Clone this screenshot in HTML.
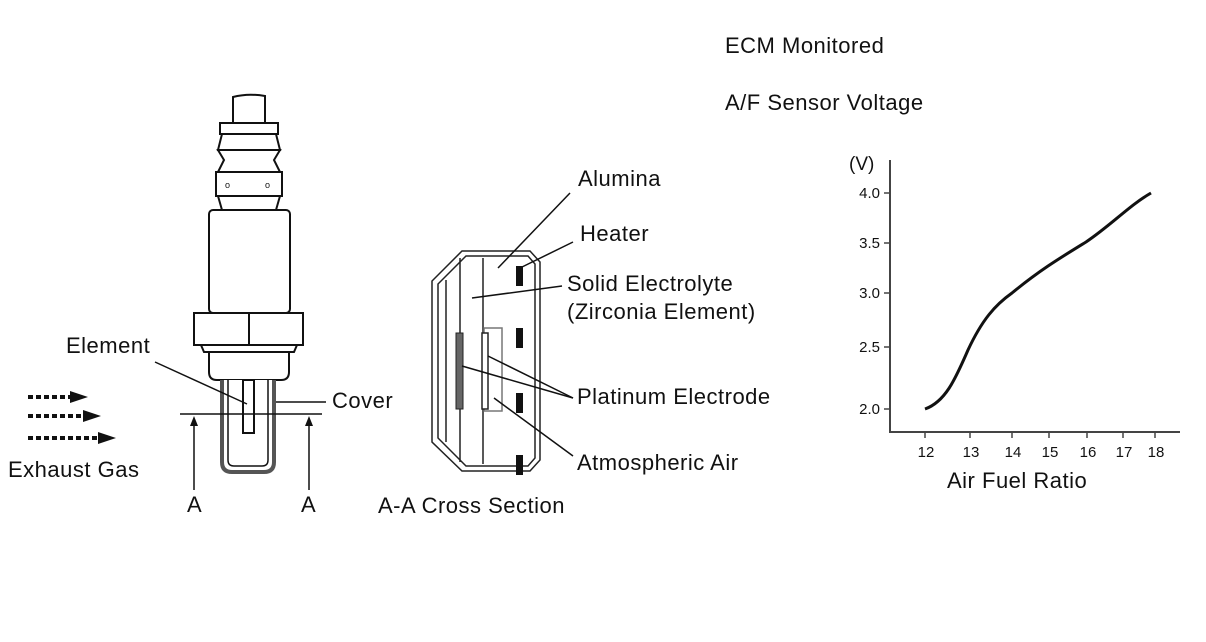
<!DOCTYPE html>
<html><head><meta charset="utf-8"><style>
html,body{margin:0;padding:0;background:#fff}
svg{display:block}
text{font-family:"Liberation Sans",sans-serif;fill:#111}
</style></head><body>
<svg width="1206" height="642" viewBox="0 0 1206 642" xmlns="http://www.w3.org/2000/svg">
<g font-size="22" letter-spacing="0.5">
<text x="725" y="53">ECM Monitored</text>
<text x="725" y="110">A/F Sensor Voltage</text>
<text x="66" y="353">Element</text>
<text x="332" y="408">Cover</text>
<text x="8" y="477">Exhaust Gas</text>
<text x="187" y="512">A</text>
<text x="301" y="512">A</text>
<text x="378" y="513">A-A Cross Section</text>
<text x="578" y="186">Alumina</text>
<text x="580" y="241">Heater</text>
<text x="567" y="291">Solid Electrolyte</text>
<text x="567" y="319">(Zirconia Element)</text>
<text x="577" y="404">Platinum Electrode</text>
<text x="577" y="470">Atmospheric Air</text>
<text x="947" y="488">Air Fuel Ratio</text>
</g>
<!-- sensor -->
<g stroke="#111" stroke-width="2" fill="#fff">
<path d="M233 123 V97 Q248 93 265 96 V123"/>
<rect x="220" y="123" width="58" height="11"/>
<path d="M222 134 H276 L280 150 H218 Z"/>
<path d="M218 150 H280 L274 160 L280 172 H218 L224 160 Z"/>
<rect x="216" y="172" width="66" height="24"/>
<path d="M218 196 H280 L276 210 H222 Z"/>
<rect x="209" y="210" width="81" height="103" rx="4"/>
<rect x="194" y="313" width="109" height="32"/>
<line x1="249" y1="313" x2="249" y2="345"/>
<path d="M201 345 H297 L294 352 H204 Z"/>
<path d="M209 352 H289 V372 Q289 380 281 380 H217 Q209 380 209 372 Z"/>
<path d="M222 380 V462 Q222 472 232 472 H264 Q274 472 274 462 V380" stroke="#555" stroke-width="4"/>
<path d="M228 380 V460 Q228 466 234 466 H262 Q268 466 268 460 V380" stroke-width="1.5"/>
<rect x="243" y="380" width="11" height="53"/>
</g>
<text x="225" y="188" font-size="9">o</text><text x="265" y="188" font-size="9">o</text>
<g stroke="#111" stroke-width="1.5" fill="none">
<line x1="155" y1="362" x2="247" y2="404"/>
<line x1="276" y1="402" x2="326" y2="402"/>
<line x1="180" y1="414" x2="322" y2="414"/>
<line x1="194" y1="422" x2="194" y2="490"/>
<line x1="309" y1="422" x2="309" y2="490"/>
</g>
<path d="M194 416 l-4 10 h8 Z M309 416 l-4 10 h8 Z" fill="#111"/>
<!-- exhaust arrows -->
<g stroke="#111" stroke-width="4" stroke-dasharray="5 3">
<line x1="28" y1="397" x2="72" y2="397"/>
<line x1="28" y1="416" x2="85" y2="416"/>
<line x1="28" y1="438" x2="100" y2="438"/>
</g>
<path d="M70 391 L88 397 L70 403Z M83 410 L101 416 L83 422Z M98 432 L116 438 L98 444Z" fill="#111"/>
<!-- cross section -->
<g fill="none" stroke="#222" stroke-width="1.5">
<path d="M462 251 H530 L540 262 V460 L530 471 H462 L432 442 V281 Z"/>
<path d="M466 256 H528 L535 264 V458 L528 466 H466 L438 438 V284 Z"/>
<line x1="446" y1="280" x2="446" y2="442"/>
<line x1="460" y1="258" x2="460" y2="462"/>
<line x1="483" y1="258" x2="483" y2="464"/>
<rect x="484" y="328" width="18" height="83" stroke="#777"/>
</g>
<rect x="456" y="333" width="7" height="76" fill="#666" stroke="#222"/>
<rect x="482" y="333" width="6" height="76" fill="#fff" stroke="#222" stroke-width="1.5"/>
<g fill="#111">
<rect x="516" y="266" width="7" height="20"/>
<rect x="516" y="328" width="7" height="20"/>
<rect x="516" y="393" width="7" height="20"/>
<rect x="516" y="455" width="7" height="20"/>
</g>
<g stroke="#111" stroke-width="1.5">
<line x1="498" y1="268" x2="570" y2="193"/>
<line x1="520" y1="268" x2="573" y2="242"/>
<line x1="472" y1="298" x2="562" y2="286"/>
<line x1="462" y1="366" x2="573" y2="398"/>
<line x1="488" y1="356" x2="573" y2="398"/>
<line x1="494" y1="398" x2="573" y2="456"/>
</g>
<!-- graph -->
<g stroke="#444" stroke-width="2" fill="none">
<line x1="890" y1="160" x2="890" y2="433"/>
<line x1="889" y1="432" x2="1180" y2="432"/>
</g>
<g stroke="#444" stroke-width="1.5">
<line x1="884" y1="193" x2="890" y2="193"/><line x1="884" y1="243" x2="890" y2="243"/>
<line x1="884" y1="293" x2="890" y2="293"/><line x1="884" y1="347" x2="890" y2="347"/>
<line x1="884" y1="409" x2="890" y2="409"/>
<line x1="925" y1="432" x2="925" y2="438"/><line x1="970" y1="432" x2="970" y2="438"/>
<line x1="1012" y1="432" x2="1012" y2="438"/><line x1="1049" y1="432" x2="1049" y2="438"/>
<line x1="1087" y1="432" x2="1087" y2="438"/><line x1="1123" y1="432" x2="1123" y2="438"/>
<line x1="1155" y1="432" x2="1155" y2="438"/>
</g>
<g font-size="15" text-anchor="end">
<text x="880" y="198">4.0</text><text x="880" y="248">3.5</text>
<text x="880" y="298">3.0</text><text x="880" y="352">2.5</text>
<text x="880" y="414">2.0</text>
</g>
<text x="849" y="170" font-size="19">(V)</text>
<g font-size="15" text-anchor="middle">
<text x="926" y="457">12</text><text x="971" y="457">13</text><text x="1013" y="457">14</text>
<text x="1050" y="457">15</text><text x="1088" y="457">16</text><text x="1124" y="457">17</text><text x="1156" y="457">18</text>
</g>
<path d="M925 409 C945 402 955 380 968 350 C982 320 995 305 1012 293 C1040 270 1060 258 1086 242 C1110 226 1130 205 1151 193" fill="none" stroke="#111" stroke-width="3"/>
</svg>
</body></html>
